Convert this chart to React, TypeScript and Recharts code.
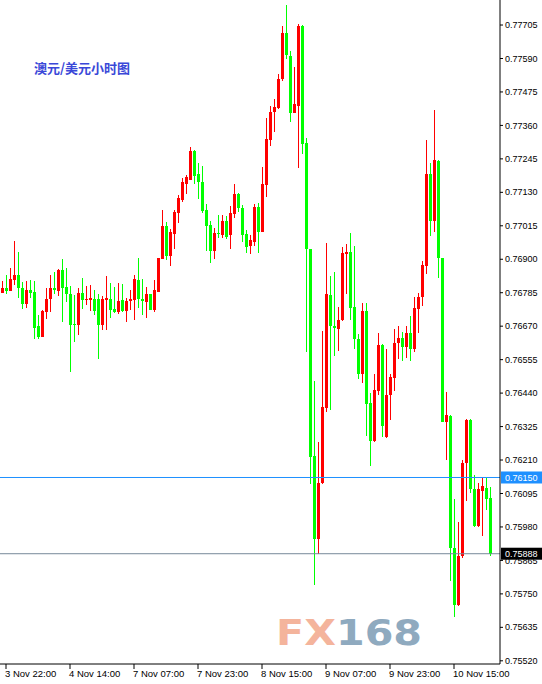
import React from 'react';
import { Bar, ComposedChart, ReferenceLine, XAxis, YAxis } from 'recharts';

// hourly AUD/USD candles
const opens = [
  0.76785, 0.768, 0.76792, 0.76829, 0.76846, 0.76801, 0.76747, 0.76794, 0.76788, 0.76671,
  0.76634, 0.7672, 0.76763, 0.76801, 0.76792, 0.76863, 0.76805, 0.76781, 0.76678, 0.76674,
  0.76784, 0.76761, 0.76761, 0.76763, 0.76763, 0.76674, 0.76761, 0.76763, 0.76729, 0.7672,
  0.7676, 0.76722, 0.76757, 0.7676, 0.76829, 0.76763, 0.76754, 0.76781, 0.76727, 0.76788,
  0.76901, 0.77014, 0.76912, 0.76987, 0.77059, 0.77104, 0.7716, 0.77174, 0.77272, 0.77194,
  0.77165, 0.77069, 0.77018, 0.76927, 0.76989, 0.76984, 0.77031, 0.76982, 0.77057, 0.77124,
  0.77077, 0.76987, 0.76946, 0.76961, 0.7708, 0.76994, 0.77155, 0.7731, 0.77406, 0.77421,
  0.77519, 0.77677, 0.776, 0.77403, 0.77427, 0.77703, 0.773, 0.76935, 0.76224, 0.75939,
  0.76132, 0.7639, 0.76778, 0.76671, 0.76662, 0.7669, 0.76919, 0.76924, 0.76736, 0.76625,
  0.76504, 0.76722, 0.76406, 0.76274, 0.76446, 0.76606, 0.76288, 0.76432, 0.76492, 0.76611,
  0.76629, 0.76599, 0.76646, 0.7659, 0.76729, 0.76771, 0.76878, 0.77194, 0.77031, 0.77236,
  0.76903, 0.76339, 0.76362, 0.75907, 0.75712, 0.75879, 0.762, 0.76348, 0.76109, 0.75983,
  0.76104, 0.76114, 0.7608,
];
const highs = [
  0.76825, 0.76845, 0.7687, 0.76963, 0.76925, 0.76822, 0.76825, 0.76829, 0.76825, 0.76707,
  0.76726, 0.76801, 0.76846, 0.76856, 0.76867, 0.76901, 0.7687, 0.76808, 0.76777, 0.76801,
  0.76836, 0.76808, 0.76812, 0.76794, 0.76781, 0.76774, 0.76842, 0.76818, 0.76804, 0.76818,
  0.76815, 0.76767, 0.76794, 0.76846, 0.76904, 0.76832, 0.76805, 0.76781, 0.76829, 0.76904,
  0.77069, 0.77028, 0.77005, 0.77069, 0.77121, 0.77179, 0.77189, 0.77286, 0.77275, 0.77232,
  0.7722, 0.7709, 0.77031, 0.77007, 0.77052, 0.77052, 0.77049, 0.77083, 0.77158, 0.77126,
  0.77085, 0.77002, 0.76982, 0.7709, 0.77095, 0.77217, 0.77385, 0.77427, 0.7745, 0.77538,
  0.77703, 0.77775, 0.77615, 0.77561, 0.77708, 0.77705, 0.77318, 0.76935, 0.7648, 0.76271,
  0.76655, 0.76956, 0.76841, 0.76857, 0.76736, 0.76943, 0.76952, 0.76989, 0.76946, 0.76643,
  0.76748, 0.76748, 0.76441, 0.76506, 0.76648, 0.76608, 0.7659, 0.76506, 0.76662, 0.76669,
  0.7665, 0.76669, 0.76706, 0.76771, 0.76783, 0.76894, 0.7731, 0.77231, 0.77414, 0.7724,
  0.76903, 0.76444, 0.76365, 0.76076, 0.75997, 0.76209, 0.7635, 0.7635, 0.7616, 0.7613,
  0.76148, 0.76148, 0.76116,
];
const lows = [
  0.76783, 0.7678, 0.7679, 0.76812, 0.76768, 0.76728, 0.76734, 0.76768, 0.76627, 0.76625,
  0.76632, 0.76694, 0.7672, 0.76781, 0.76775, 0.76685, 0.76754, 0.76514, 0.76617, 0.7664,
  0.76728, 0.76743, 0.76722, 0.76708, 0.76557, 0.76657, 0.76657, 0.76699, 0.76715, 0.76713,
  0.76719, 0.76685, 0.76726, 0.76692, 0.76734, 0.76708, 0.76699, 0.76727, 0.7672, 0.76788,
  0.76901, 0.76897, 0.76878, 0.76935, 0.77026, 0.77098, 0.77124, 0.77172, 0.7716, 0.77106,
  0.77059, 0.76927, 0.76886, 0.76902, 0.76974, 0.76974, 0.76969, 0.76935, 0.77041, 0.77064,
  0.76961, 0.76922, 0.76919, 0.76946, 0.76922, 0.76992, 0.77114, 0.77289, 0.77336, 0.77418,
  0.77514, 0.77587, 0.77372, 0.77401, 0.77212, 0.77263, 0.76581, 0.76126, 0.75782, 0.75888,
  0.76129, 0.76376, 0.76381, 0.76569, 0.76583, 0.76687, 0.76781, 0.76692, 0.76592, 0.76488,
  0.76476, 0.76293, 0.7619, 0.76272, 0.76432, 0.7629, 0.76286, 0.76346, 0.76448, 0.76557,
  0.7655, 0.76562, 0.7655, 0.7658, 0.76648, 0.76741, 0.76848, 0.7698, 0.76994, 0.76834,
  0.76339, 0.76211, 0.75795, 0.75672, 0.75707, 0.75874, 0.76069, 0.76097, 0.75981, 0.75981,
  0.75949, 0.76039, 0.75879,
];
const closes = [
  0.768, 0.76792, 0.76832, 0.76846, 0.768, 0.76747, 0.76794, 0.76785, 0.76665, 0.76634,
  0.76722, 0.76763, 0.76801, 0.76794, 0.76863, 0.76801, 0.76782, 0.76674, 0.76674, 0.76784,
  0.76761, 0.76764, 0.76767, 0.76722, 0.76674, 0.76763, 0.76767, 0.76727, 0.76719, 0.76757,
  0.76722, 0.76757, 0.76763, 0.76832, 0.76763, 0.76757, 0.76781, 0.76727, 0.76794, 0.76904,
  0.77014, 0.76911, 0.76992, 0.77064, 0.77112, 0.77165, 0.77181, 0.77272, 0.77185, 0.77164,
  0.77067, 0.77015, 0.76927, 0.7699, 0.76987, 0.77031, 0.76977, 0.77059, 0.77124, 0.77077,
  0.76984, 0.76943, 0.76966, 0.7708, 0.76994, 0.7716, 0.77314, 0.77406, 0.77424, 0.77519,
  0.77677, 0.77602, 0.77401, 0.77434, 0.77703, 0.77297, 0.76935, 0.76222, 0.75939, 0.76131,
  0.76392, 0.76781, 0.76669, 0.76664, 0.76692, 0.76922, 0.76924, 0.76732, 0.76625, 0.76504,
  0.76722, 0.76404, 0.76274, 0.76451, 0.76606, 0.76327, 0.76434, 0.76497, 0.76613, 0.76629,
  0.76599, 0.76648, 0.7659, 0.76732, 0.76771, 0.7688, 0.77194, 0.77031, 0.7724, 0.76903,
  0.76339, 0.76365, 0.75907, 0.75712, 0.75879, 0.762, 0.76348, 0.76109, 0.75983, 0.76109,
  0.76121, 0.76076, 0.75888,
];

const xTickIndex = [1, 17, 33, 49, 65, 81, 97, 113];
const xTickLabels = [
  '3 Nov 22:00', '4 Nov 14:00', '7 Nov 07:00', '7 Nov 23:00',
  '8 Nov 15:00', '9 Nov 07:00', '9 Nov 23:00', '10 Nov 15:00',
];
const yTicks = [
  0.77705, 0.7759, 0.77475, 0.7736, 0.77245, 0.7713, 0.77015, 0.769, 0.76785, 0.7667,
  0.76555, 0.7644, 0.76325, 0.7621, 0.76095, 0.7598, 0.75865, 0.7575, 0.75635, 0.7552,
];
const yDomain = [0.75509, 0.77791];
const levelPrice = 0.7615;
const bidPrice = 0.75888;
const title = '澳元/美元小时图';
const emptySlots = 2; // chart shift on the right

const UP = '#ff0000';
const DOWN = '#00ff00';
const FONT = "'Liberation Sans', Arial, sans-serif";

const data = [
  ...opens.map((o, i) => ({
    i,
    open: o,
    high: highs[i],
    low: lows[i],
    close: closes[i],
    range: [lows[i], highs[i]],
  })),
  ...Array.from({ length: emptySlots }, (_, k) => ({ i: opens.length + k, range: null })),
];

function Candle(props: any) {
  const { x, y, height, payload } = props;
  if (!payload || payload.open == null) return null;
  const { open, close, high, low } = payload;
  const k = height / (high - low || 1);
  const yOf = (v: number) => y + (high - v) * k;
  const color = close >= open ? UP : DOWN;
  const top = yOf(Math.max(open, close));
  const bot = yOf(Math.min(open, close));
  const x0 = Math.round(x);
  return (
    <g shapeRendering='crispEdges'>
      <rect x={x0 + 2} y={y} width={1} height={Math.max(height, 1)} fill={color} />
      <rect x={x0 + 1} y={top} width={3} height={Math.max(bot - top, 1)} fill={color} />
    </g>
  );
}

function XTick(props: any) {
  const { x, y, payload } = props;
  const k = xTickIndex.indexOf(payload.value);
  return (
    <text x={x - 1} y={y + 6} fontSize={9.5} fontFamily={FONT} fill='#000' textAnchor='start'>
      {xTickLabels[k]}
    </text>
  );
}

function YTick(props: any) {
  const { x, y, payload } = props;
  return (
    <text x={x} y={y} dy='0.35em' fontSize={9} fontFamily={FONT} fill='#000' textAnchor='start'>
      {Number(payload.value).toFixed(5)}
    </text>
  );
}

function PriceTag(props: any) {
  const { viewBox, text, bg } = props;
  if (!viewBox) return null;
  const x = viewBox.x + viewBox.width + 1;
  const y = viewBox.y;
  return (
    <g>
      <rect x={x} y={y - 6} width={41} height={12} fill={bg} />
      <text x={x + 4} y={y} dy='0.35em' fontSize={9} fontFamily={FONT} fill='#fff'>
        {text}
      </text>
    </g>
  );
}

export default function App() {
  return (
    <div style={{ position: 'absolute', left: 0, top: 0, width: 542, height: 684, background: '#fff' }}>
      <ComposedChart
        width={542}
        height={684}
        data={data}
        margin={{ top: 0, right: 0, bottom: 0, left: 0 }}
        barCategoryGap={0}
        barGap={0}
      >
        <XAxis
          dataKey='i'
          ticks={xTickIndex}
          interval={0}
          height={20}
          tickSize={5}
          axisLine={{ stroke: '#000' }}
          tickLine={{ stroke: '#000' }}
          tick={<XTick />}
        />
        <YAxis
          orientation='right'
          width={42}
          domain={yDomain}
          ticks={yTicks}
          allowDataOverflow
          tickSize={3}
          axisLine={{ stroke: '#000' }}
          tickLine={{ stroke: '#000' }}
          tick={<YTick />}
        />
        <Bar dataKey='range' shape={(p: any) => <Candle {...p} />} isAnimationActive={false} />
        <ReferenceLine
          y={levelPrice}
          stroke='#1e90ff'
          strokeWidth={1}
          label={<PriceTag text={levelPrice.toFixed(5)} bg='#1e90ff' />}
        />
        <ReferenceLine
          y={bidPrice}
          stroke='#778899'
          strokeWidth={1}
          label={<PriceTag text={bidPrice.toFixed(5)} bg='#000' />}
        />
      </ComposedChart>
      <svg width={542} height={684} style={{ position: 'absolute', left: 0, top: 0, pointerEvents: 'none' }}>
        <text
          x={34}
          y={73}
          fontSize={13}
          fontWeight='bold'
          fontFamily="'Noto Sans CJK SC', sans-serif"
          fill='#3a48d8'
        >
          {title}
        </text>
        <text
          x={276}
          y={645}
          fontSize={35}
          fontWeight='bold'
          fontFamily="'DejaVu Sans', sans-serif"
          textLength={146}
          lengthAdjust='spacingAndGlyphs'
        >
          <tspan fill='#f4b49c'>FX</tspan>
          <tspan fill='#8faabf'>168</tspan>
        </text>
      </svg>
    </div>
  );
}
